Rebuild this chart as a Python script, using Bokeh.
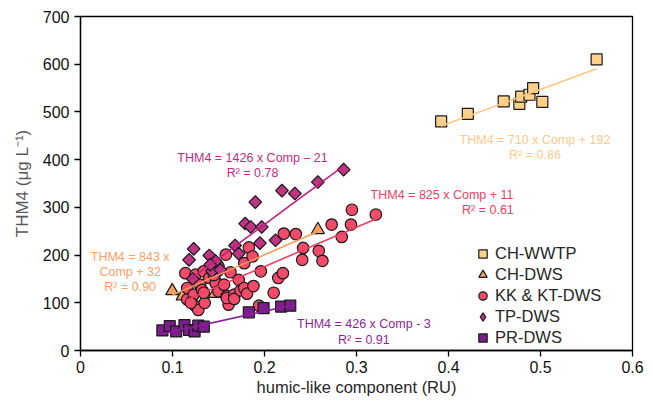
import math
from bokeh.plotting import figure
from bokeh.models import Range1d, FixedTicker, Label, Legend, LegendItem, Title
from bokeh.embed import file_html
from bokeh.resources import INLINE

# ---------------- data ----------------
series_names = ["CH-WWTP", "CH-DWS", "KK & KT-DWS", "TP-DWS", "PR-DWS"]

wwtp_x = [0.392, 0.421, 0.460, 0.477, 0.479, 0.488, 0.492, 0.502, 0.561]
wwtp_y = [480, 496, 522, 517, 532, 536, 550, 521, 610]

chdws_x = [0.0997, 0.111, 0.146, 0.147, 0.258]
chdws_y = [125, 114, 119, 152, 253]

kk_x = [0.114, 0.116, 0.116, 0.123, 0.125, 0.125, 0.128, 0.130, 0.132, 0.135,
        0.134, 0.134, 0.140, 0.147, 0.150, 0.150, 0.156, 0.159, 0.161, 0.159,
        0.163, 0.167, 0.167, 0.172, 0.174, 0.178, 0.178, 0.181, 0.183, 0.187,
        0.188, 0.194, 0.196, 0.210, 0.215, 0.220, 0.221, 0.234, 0.242, 0.241,
        0.259, 0.263, 0.273, 0.294, 0.295, 0.284, 0.321, 0.158, 0.120, 0.145]
kk_y = [162, 107, 131, 117, 159, 93, 85, 138, 127, 100,
        121, 166, 152, 141, 124, 176, 138, 114, 96, 110,
        164, 117, 108, 148, 126, 131, 183, 119, 216, 197,
        135, 94, 166, 121, 152, 162, 245, 244, 215, 190,
        209, 188, 264, 264, 295, 238, 285, 201, 100, 158]

tp_x = [0.118, 0.123, 0.122, 0.140, 0.147, 0.143, 0.152, 0.141, 0.168, 0.172,
        0.179, 0.185, 0.190, 0.197, 0.195, 0.212, 0.219, 0.233, 0.258, 0.286]
tp_y = [190, 213, 150, 199, 187, 166, 169, 180, 220, 203,
        266, 259, 311, 259, 225, 231, 335, 329, 353, 379]

pr_x = [0.089, 0.097, 0.104, 0.113, 0.118, 0.124, 0.128, 0.134, 0.183, 0.199, 0.218, 0.228]
pr_y = [42, 51, 40, 53, 43, 40, 52, 50, 80, 89, 92, 94]

fit_slope = [710, 843, 825, 1426, 426]
fit_intercept = [192, 32, 11, -21, -3]
fit_eq = ["THM4 = 710 x Comp + 192", "THM4 = 843 x\nComp + 32", "THM4 = 825 x Comp + 11",
          "THM4 = 1426 x Comp \u2013 21", "THM4 = 426 x Comp - 3"]
fit_r2 = ["R\u00b2 = 0.86", "R\u00b2 = 0.90", "R\u00b2 = 0.61", "R\u00b2 = 0.78", "R\u00b2 = 0.91"]

x_ticks = [0, 0.1, 0.2, 0.3, 0.4, 0.5, 0.6]
x_tick_labels = ["0", "0.1", "0.2", "0.3", "0.4", "0.5", "0.6"]
y_ticks = [0, 100, 200, 300, 400, 500, 600, 700]

x_title = "humic-like component (RU)"
y_title = "THM4 (\u03bcg L\u207b\u00b9)"

# ---------------- styles ----------------
FONT = "Liberation Sans"
EDGE = "#1a1a1a"
fill_cols = ["#FDD08B", "#F6A065", "#F24B6A", "#BF3584", "#7D1D8C"]
line_cols = ["#FFC77D", "#F99A55", "#F03E62", "#C21F7F", "#8A1E96"]
text_cols = ["#FFC98A", "#F9A262", "#F0405F", "#C42A80", "#8E1F98"]

p = figure(width=645, height=404, x_range=Range1d(0, 0.6), y_range=Range1d(0, 700),
           output_backend="svg", toolbar_location=None,
           min_border_left=80, min_border_right=13, min_border_top=16, min_border_bottom=54)
p.xgrid.visible = False
p.ygrid.visible = False
p.outline_line_color = "black"
p.outline_line_width = 1.3
p.background_fill_color = "white"
p.border_fill_color = "white"

p.xaxis.ticker = FixedTicker(ticks=x_ticks)
p.xaxis.major_label_overrides = {t: l for t, l in zip(x_ticks, x_tick_labels)}
p.yaxis.ticker = FixedTicker(ticks=y_ticks)
for ax in (p.xaxis, p.yaxis):
    ax.axis_line_color = "black"
    ax.axis_line_width = 1.3
    ax.major_tick_line_color = "black"
    ax.major_tick_line_width = 1.3
    ax.major_tick_out = 6
    ax.major_tick_in = 0
    ax.minor_tick_out = 0
    ax.minor_tick_in = 0
    ax.major_label_text_font = FONT
    ax.major_label_text_font_size = "16px"
    ax.major_label_text_color = "#111111"
p.xaxis.major_label_standoff = 4
p.yaxis.major_label_standoff = 5

# axis titles as offset titles in the side panels
p.add_layout(Title(text=x_title, align="center", offset=-30, standoff=0,
                   text_font=FONT, text_font_size="16.5px", text_font_style="normal",
                   text_color="#262626"), "below")
p.add_layout(Title(text=y_title, align="center", offset=-25, standoff=16,
                   text_font=FONT, text_font_size="17px", text_font_style="normal",
                   text_color="#595959"), "left")

xs = [wwtp_x, chdws_x, kk_x, tp_x, pr_x]
ys = [wwtp_y, chdws_y, kk_y, tp_y, pr_y]
markers = [dict(marker="square", size=11),
           dict(marker="triangle", size=13),
           dict(marker="circle", size=11.5),
           dict(marker="square", size=9, angle=math.pi / 4),
           dict(marker="square", size=11)]
legend_markers = ["square", "triangle", "circle", "diamond", "square"]

renderers = []
legend_renderers = []
for i in range(5):
    r = p.scatter(xs[i], ys[i], fill_color=fill_cols[i], line_color=EDGE, line_width=1.2, **markers[i])
    renderers.append(r)
    # legend proxy placed outside the visible range so only its legend symbol shows
    lr = p.scatter([-1.0], [-1000.0], marker=legend_markers[i], fill_color=fill_cols[i],
                   line_color=EDGE, line_width=1.2, size=8)
    legend_renderers.append(lr)

# trendlines on top
for i in range(5):
    x0, x1 = min(xs[i]), max(xs[i])
    p.line([x0, x1], [fit_slope[i] * x0 + fit_intercept[i], fit_slope[i] * x1 + fit_intercept[i]],
           line_color=line_cols[i], line_width=1.6)


def add_text(x, y, txt, color, align="center", size="12.5px"):
    p.add_layout(Label(x=x, y=y, text=txt, text_color=color, text_font=FONT,
                       text_font_size=size, text_align=align, text_baseline="middle"))


# equation annotations
add_text(0.494, 440.7, fit_eq[0], text_cols[0])
add_text(0.494, 410, fit_r2[0], text_cols[0])
eq843 = fit_eq[1].split("\n")
add_text(0.054, 197, eq843[0], text_cols[1])
add_text(0.054, 165.5, eq843[1], text_cols[1])
add_text(0.054, 134, fit_r2[1], text_cols[1])
add_text(0.393, 326.6, fit_eq[2], text_cols[2])
add_text(0.471, 294.5, fit_r2[2], text_cols[2], align="right")
add_text(0.187, 403.6, fit_eq[3], text_cols[3])
add_text(0.187, 372, fit_r2[3], text_cols[3])
add_text(0.308, 55.6, fit_eq[4], text_cols[4])
add_text(0.308, 22, fit_r2[4], text_cols[4])

legend = Legend(items=[LegendItem(label=series_names[i], renderers=[legend_renderers[i]]) for i in range(5)],
                location=(392, 2), orientation="vertical",
                label_text_font=FONT, label_text_font_size="16.5px", label_text_color="#262626",
                glyph_width=21, glyph_height=21, label_height=21, spacing=0,
                padding=5, label_standoff=2, margin=0,
                border_line_color=None, background_fill_alpha=0)
p.add_layout(legend, "center")

open("out.html", "w").write(file_html(p, INLINE))
